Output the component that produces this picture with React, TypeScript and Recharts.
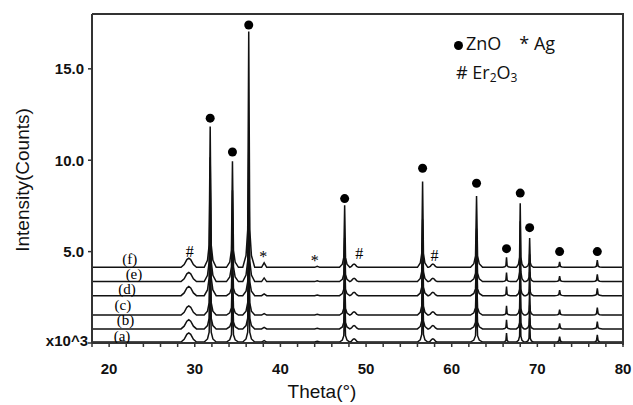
import { ComposedChart, Line, Scatter, XAxis, YAxis } from "recharts";

const THETA_DOMAIN: [number, number] = [18, 80];
const X_TICKS = [18, 20, 22, 24, 26, 28, 30, 32, 34, 36, 38, 40, 42, 44, 46, 48, 50, 52, 54, 56, 58, 60, 62, 64, 66, 68, 70, 72, 74, 76, 78, 80];
const X_TICK_LABELS = [20, 30, 40, 50, 60, 70, 80];
const Y_TICKS = [0, 5, 10, 15];
const Y_TICK_LABELS = ["x10^3", "5.0", "10.0", "15.0"];

const SAMPLE_LABELS = ["(a)", "(b)", "(c)", "(d)", "(e)", "(f)"];
const BASELINES = [0.05, 0.77, 1.53, 2.59, 3.36, 4.14];
const LABEL_THETA = [21.5, 21.9, 21.6, 22.1, 22.9, 22.4];
const LABEL_Y = [0.4, 1.25, 2.1, 2.98, 3.8, 4.58];

// ZnO reflections: position, foot half-width, height above baseline for (a)..(f)
const ZNO_THETA = [31.8, 34.4, 36.3, 47.5, 56.6, 62.9, 66.4, 68.0, 69.1, 72.6, 77.0];
const ZNO_WIDTH = [0.7, 0.7, 0.7, 0.6, 0.6, 0.7, 0.45, 0.45, 0.45, 0.6, 0.6];
const ZNO_A = [3.4, 2.5, 3.4, 2.2, 2.6, 2.2, 0.5, 2.0, 1.3, 0.3, 0.4];
const ZNO_B = [3.7, 2.4, 3.7, 2.2, 2.7, 2.3, 0.5, 2.1, 1.3, 0.3, 0.4];
const ZNO_C = [4.2, 2.5, 4.2, 2.2, 3.0, 2.5, 0.5, 2.3, 1.4, 0.3, 0.4];
const ZNO_D = [6.2, 2.5, 4.8, 2.2, 2.9, 2.4, 0.5, 2.2, 1.3, 0.3, 0.4];
const ZNO_E = [6.8, 5.0, 7.1, 2.4, 3.4, 2.9, 0.5, 3.3, 1.5, 0.3, 0.4];
const ZNO_F = [7.7, 5.8, 12.9, 3.4, 4.7, 3.9, 0.55, 3.5, 1.6, 0.3, 0.4];
const ZNO_HEIGHTS = [ZNO_A, ZNO_B, ZNO_C, ZNO_D, ZNO_E, ZNO_F];

// Er2O3 humps and Ag reflections
const ER_THETA = [29.3, 48.6, 57.8];
const ER_WIDTH = [0.9, 0.5, 0.5];
const ER_HEIGHT = [0.5, 0.18, 0.18];
const AG_THETA = [38.1, 44.3];
const AG_A = [0.08, 0.04];
const AG_B = [0.08, 0.04];
const AG_C = [0.08, 0.04];
const AG_D = [0.1, 0.04];
const AG_E = [0.2, 0.05];
const AG_F = [0.25, 0.06];
const AG_HEIGHTS = [AG_A, AG_B, AG_C, AG_D, AG_E, AG_F];

// peak markers
const ZNO_MARK_Y = [12.3, 10.45, 17.4, 7.9, 9.56, 8.74, 5.16, 8.2, 6.31, 5.0, 5.0];
const ER_MARK_THETA = [29.4, 49.2, 58.0];
const ER_MARK_Y = [4.98, 4.92, 4.8];
const AG_MARK_THETA = [38.0, 44.0];
const AG_MARK_Y = [4.85, 4.6];

interface Pt {
  x: number;
  y: number;
}

function buildPattern(i: number): Pt[] {
  const b = BASELINES[i];
  const pts: Pt[] = [
    { x: THETA_DOMAIN[0], y: b },
    { x: THETA_DOMAIN[1], y: b },
  ];
  ZNO_THETA.forEach((t, k) => {
    const h = ZNO_HEIGHTS[i][k];
    const w = ZNO_WIDTH[k];
    pts.push(
      { x: t - w, y: b },
      { x: t - 0.45 * w, y: b + 0.05 * h },
      { x: t - 0.17 * w, y: b + 0.16 * h },
      { x: t, y: b + h },
      { x: t + 0.17 * w, y: b + 0.16 * h },
      { x: t + 0.45 * w, y: b + 0.05 * h },
      { x: t + w, y: b },
    );
  });
  ER_THETA.forEach((t, k) => {
    const h = ER_HEIGHT[k];
    const w = ER_WIDTH[k];
    pts.push(
      { x: t - w, y: b },
      { x: t - 0.6 * w, y: b + 0.3 * h },
      { x: t - 0.25 * w, y: b + 0.85 * h },
      { x: t, y: b + h },
      { x: t + 0.25 * w, y: b + 0.85 * h },
      { x: t + 0.6 * w, y: b + 0.3 * h },
      { x: t + w, y: b },
    );
  });
  AG_THETA.forEach((t, k) => {
    const h = AG_HEIGHTS[i][k];
    pts.push({ x: t - 0.3, y: b }, { x: t, y: b + h }, { x: t + 0.3, y: b });
  });
  return pts.sort((p, q) => p.x - q.x);
}

const patterns = SAMPLE_LABELS.map((_, i) => buildPattern(i));
const znoMarks = ZNO_THETA.map((x, i) => ({ x, y: ZNO_MARK_Y[i] }));
const erMarks = ER_MARK_THETA.map((x, i) => ({ x, y: ER_MARK_Y[i] }));
const agMarks = AG_MARK_THETA.map((x, i) => ({ x, y: AG_MARK_Y[i] }));
const sampleMarks = SAMPLE_LABELS.map((label, i) => ({ x: LABEL_THETA[i], y: LABEL_Y[i], label }));

const AXIS = "#333";
const TICK_FONT = "'Liberation Sans', Arial, sans-serif";

function textShape(text: string, size: number, dy = 0) {
  return (props: any) => (
    <text
      x={props.cx}
      y={props.cy + dy}
      textAnchor="middle"
      dominantBaseline="central"
      fontFamily="'Liberation Serif', serif"
      fontSize={size}
      fill="#000"
    >
      {text}
    </text>
  );
}

function XTick(props: any) {
  const { x, y, payload } = props;
  if (!X_TICK_LABELS.includes(payload.value)) return null;
  return (
    <text x={x} y={y + 19} textAnchor="middle" dominantBaseline="central"
      fontFamily={TICK_FONT} fontWeight="bold" fontSize={15} fill="#111">
      {payload.value}
    </text>
  );
}

function YTick(props: any) {
  const { x, y, payload } = props;
  const idx = Y_TICKS.indexOf(payload.value);
  const isUnit = idx === 0;
  return (
    <text
      x={isUnit ? x + 2 : x - 2}
      y={isUnit ? y - 3 : y}
      textAnchor="end"
      dominantBaseline="central"
      fontFamily={TICK_FONT}
      fontWeight="bold"
      fontSize={15}
      fill="#111"
    >
      {Y_TICK_LABELS[idx]}
    </text>
  );
}

export default function App() {
  return (
    <div style={{ position: "absolute", left: 0, top: 0, width: 633, height: 405, background: "#fff" }}>
      <ComposedChart width={633} height={405} margin={{ top: 14, right: 10, bottom: 0, left: 0 }}>
        <XAxis
          dataKey="x"
          type="number"
          domain={THETA_DOMAIN}
          ticks={X_TICKS}
          allowDataOverflow
          interval={0}
          height={62}
          tickSize={4}
          tick={<XTick />}
          axisLine={{ stroke: AXIS, strokeWidth: 2 }}
          tickLine={{ stroke: AXIS, strokeWidth: 1.5 }}
        />
        <YAxis
          type="number"
          domain={[0, 18]}
          ticks={Y_TICKS}
          allowDataOverflow
          width={92}
          tickSize={4}
          tick={<YTick />}
          axisLine={{ stroke: AXIS, strokeWidth: 2 }}
          tickLine={{ stroke: AXIS, strokeWidth: 1.5 }}
        />
        {patterns.map((data, i) => (
          <Line
            key={SAMPLE_LABELS[i]}
            data={data}
            dataKey="y"
            type="linear"
            stroke="#111"
            strokeWidth={1.5}
            dot={false}
            activeDot={false}
            isAnimationActive={false}
          />
        ))}
        <Scatter data={znoMarks} dataKey="y" fill="#000" isAnimationActive={false}
          shape={(p: any) => <circle cx={p.cx} cy={p.cy} r={4.5} fill="#000" />} />
        <Scatter data={erMarks} dataKey="y" isAnimationActive={false} shape={textShape("#", 16)} />
        <Scatter data={agMarks} dataKey="y" isAnimationActive={false} shape={textShape("*", 16, 2)} />
        <Scatter data={sampleMarks} dataKey="y" isAnimationActive={false} shape={(p: any) => textShape(p.payload.label, 15)(p)} />
      </ComposedChart>

      {/* frame top/right */}
      <div style={{ position: "absolute", left: 92, top: 13, width: 530, height: 330, borderTop: `2px solid ${AXIS}`, borderRight: `2px solid ${AXIS}`, pointerEvents: "none" }} />

      {/* legend */}
      <div style={{ position: "absolute", left: 454, top: 31, fontFamily: "'Open Sans', sans-serif", fontSize: 18, color: "#111", whiteSpace: "nowrap", lineHeight: "24px" }}>
        <span style={{ display: "inline-block", width: 9, height: 9, borderRadius: "50%", background: "#000", marginRight: 3, verticalAlign: "middle" }} />
        ZnO
        <span style={{ marginLeft: 18 }}>* Ag</span>
      </div>
      <div style={{ position: "absolute", left: 456, top: 60, fontFamily: "'Open Sans', sans-serif", fontSize: 18, color: "#111", whiteSpace: "nowrap", lineHeight: "24px" }}>
        # Er<sub style={{ fontSize: 12, verticalAlign: "-3px" }}>2</sub>O<sub style={{ fontSize: 12, verticalAlign: "-3px" }}>3</sub>
      </div>

      {/* axis titles */}
      <div style={{ position: "absolute", left: 23, top: 180, transform: "translate(-50%, -50%) rotate(-90deg)", fontFamily: TICK_FONT, fontSize: 19, color: "#111", whiteSpace: "nowrap" }}>
        Intensity(Counts)
      </div>
      <div style={{ position: "absolute", left: 322, top: 392, transform: "translate(-50%, -50%)", fontFamily: TICK_FONT, fontSize: 19, color: "#111", whiteSpace: "nowrap" }}>
        Theta(°)
      </div>
    </div>
  );
}
